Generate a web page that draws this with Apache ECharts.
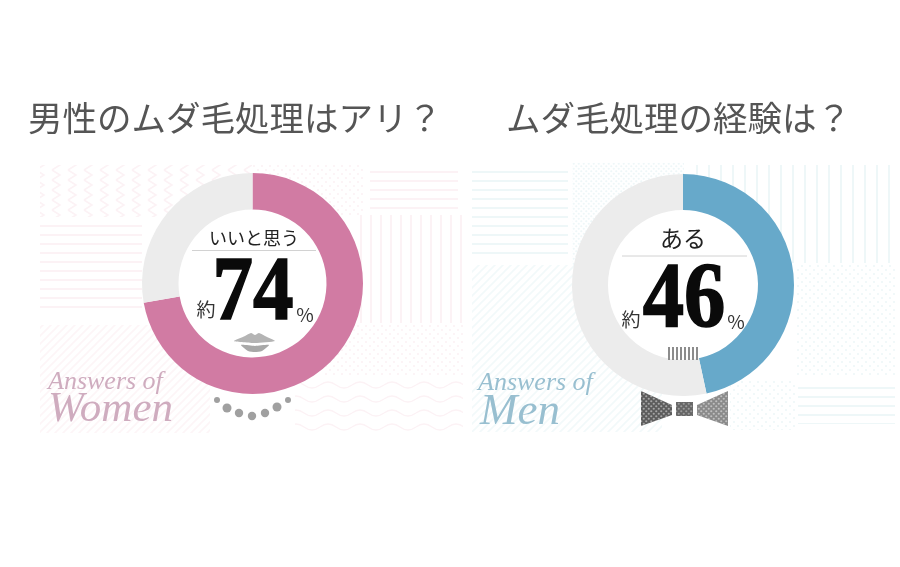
<!DOCTYPE html>
<html><head><meta charset="utf-8">
<style>html,body{margin:0;padding:0;background:#fff}#c{width:900px;height:567px}</style>
<script src="https://cdn.jsdelivr.net/npm/echarts@6/dist/echarts.min.js"></script>
</head><body><div id="c"></div>
<script>
const titles = ['男性のムダ毛処理はアリ？', 'ムダ毛処理の経験は？'];
const answers = ['いいと思う', 'ある'];
const readouts = ['74', '46'];
const womenArc = [72.2, 27.8];
const menArc = [46.6, 53.4];
const ringColors = ['#d17ba3', '#67a9ca'];
const restColor = '#ececec';
const CJK = '"Noto Sans CJK JP","Noto Sans",sans-serif';

function tile(w, h, draw) {
  const c = document.createElement('canvas'); c.width = w; c.height = h;
  draw(c.getContext('2d')); return { image: c, repeat: 'repeat' };
}
function hl(col, g) { return tile(4, g, x => { x.fillStyle = col; x.fillRect(0, 0, 4, 2); }); }
function vl(col, g) { return tile(g, 4, x => { x.fillStyle = col; x.fillRect(0, 0, 2, 4); }); }
function diag(col) { return tile(8, 8, x => { x.strokeStyle = col; x.lineWidth = 1.6;
  x.beginPath(); x.moveTo(-2, 10); x.lineTo(10, -2); x.moveTo(-2, 2); x.lineTo(2, -2); x.moveTo(6, 10); x.lineTo(10, 6); x.stroke(); }); }
function dots(col, g) { return tile(g, g, x => { x.fillStyle = col;
  x.beginPath(); x.arc(g / 4, g / 4, 1.1, 0, 7); x.arc(3 * g / 4, 3 * g / 4, 1.1, 0, 7); x.fill(); }); }
function wave(col) { return tile(32, 14, x => { x.strokeStyle = col; x.lineWidth = 1.4; x.beginPath();
  x.moveTo(0, 7); x.quadraticCurveTo(8, 1, 16, 7); x.quadraticCurveTo(24, 13, 32, 7); x.stroke(); }); }
function zig(col) { return tile(16, 10, x => { x.strokeStyle = col; x.lineWidth = 1.6; x.beginPath();
  x.moveTo(4, 0); x.lineTo(12, 5); x.lineTo(4, 10); x.stroke(); }); }

const P = '#fcf2f5', B = '#eef7f8';
const bg = (x, y, w, h, fill) => ({ type: 'rect', z: 0, silent: true, shape: { x, y, width: w, height: h }, style: { fill } });
const txt = (x, y, text, size, extra) => ({ type: 'text', z: 10, silent: true, x, y, style: Object.assign({
  text, font: `400 ${size}px ${CJK}`, fill: '#222', align: 'center', verticalAlign: 'middle' }, extra || {}) });
const big = (x, y, text, size, sx) => ({ type: 'text', z: 10, silent: true, x, y, scaleX: sx, style: {
  text, font: `700 ${size}px "Liberation Serif",serif`, fill: '#0a0a0a', stroke: '#0a0a0a', lineWidth: 1.6,
  align: 'center', verticalAlign: 'middle' } });
const script = (x, y, text, size, fill) => ({ type: 'text', z: 10, silent: true, x, y, style: {
  text, font: `italic 400 ${size}px "Liberation Serif",serif`, fill, align: 'left', verticalAlign: 'middle' } });
const rule = (x1, x2, y) => ({ type: 'line', z: 10, silent: true, shape: { x1, y1: y, x2, y2: y }, style: { stroke: '#d2d2d2', lineWidth: 1 } });
const disc = (cx, cy, r, fill) => ({ type: 'circle', z: 10, silent: true, shape: { cx, cy, r }, style: { fill } });
const poly = (points, fill, smooth, z) => ({ type: 'polygon', z: z || 10, silent: true, shape: { points, smooth: smooth || 0 }, style: { fill } });

const wingL = [[641, 391], [672, 405], [672, 415], [641, 426]];
const wingR = [[728, 391], [697, 405], [697, 415], [728, 426]];
const knot = [[676, 402], [693, 402], [693, 416], [676, 416]];
const elements = [
  // women panel backdrop
  bg(40, 165, 212, 52, zig(P)), bg(252, 165, 113, 50, dots(P, 8)), bg(370, 170, 88, 40, hl(P, 9)),
  bg(40, 222, 102, 90, hl(P, 9)), bg(357, 215, 106, 108, vl(P, 10)),
  bg(40, 325, 170, 108, diag('#fdf5f7')), bg(323, 325, 140, 50, dots(P, 8)), bg(295, 376, 168, 56, wave(P)),
  // men panel backdrop
  bg(472, 165, 96, 95, hl(B, 9)), bg(572, 163, 112, 102, dots(B, 5)), bg(692, 165, 203, 98, vl(B, 12)),
  bg(472, 265, 190, 167, diag('#f2f9fa')), bg(795, 265, 100, 112, dots(B, 8)), bg(730, 380, 65, 50, dots(B, 8)),
  bg(798, 380, 97, 44, hl(B, 9)),
  // titles
  txt(235, 118, titles[0], 34.5, { fill: '#555' }), txt(678.5, 118, titles[1], 34.5, { fill: '#555' }),
  // women centre
  txt(254, 238, answers[0], 18), rule(192, 316, 250.5), big(253, 296, readouts[0], 90, 0.9),
  txt(206, 310, '約', 19, { fill: '#333' }), txt(305, 315, '%', 19, { fill: '#333' }),
  // lips
  poly([[234, 341], [245, 336], [251, 333], [255, 335], [259, 333], [265, 336], [275, 341], [255, 343]], '#b4b4b4', 0.2),
  poly([[241, 345], [255, 346], [269, 345], [262, 351], [255, 352], [248, 351]], '#a8a8a8', 0.2),
  // necklace
  disc(217, 400, 3, '#a0a0a0'), disc(227, 408, 4.5, '#a0a0a0'), disc(239, 413, 4.2, '#a0a0a0'), disc(252, 416, 4.2, '#a0a0a0'),
  disc(265, 413, 4.2, '#a0a0a0'), disc(277, 407, 4.5, '#a0a0a0'), disc(288, 400, 3, '#a0a0a0'),
  script(48, 382, 'Answers of', 26, '#cfacbf'), script(48, 410, 'Women', 43, '#cfacbf'),
  // men centre
  txt(683, 238, answers[1], 23), rule(622, 747, 256), big(684, 302, readouts[1], 94, 0.88),
  txt(631, 320, '約', 19, { fill: '#333' }), txt(736, 322, '%', 19, { fill: '#333' }),
  // collar stripes
  { type: 'rect', z: 10, silent: true, shape: { x: 667, y: 347, width: 33, height: 13 }, style: { fill: tile(4, 4, x => { x.fillStyle = '#8c8c8c'; x.fillRect(0, 0, 2, 4); }) } },
  // bow tie
  poly(wingL, '#5c5c5c'), poly(wingR, '#8a8a8a'), poly(knot, '#666'),
  poly(wingL, dots('rgba(255,255,255,.45)', 5), 0, 11), poly(wingR, dots('rgba(255,255,255,.45)', 5), 0, 11),
  poly(knot, dots('rgba(255,255,255,.35)', 5), 0, 11),
  script(478, 383, 'Answers of', 26, '#98bfd0'), script(480, 412, 'Men', 45, '#98bfd0')
];

function ring(center, radius, values, color) {
  return { type: 'pie', center, radius, startAngle: 90, clockwise: true, silent: true, z: 5,
    label: { show: false }, labelLine: { show: false }, animation: false,
    data: [{ value: values[0], itemStyle: { color } }, { value: values[1], itemStyle: { color: restColor } }] };
}
// white faces behind the centre text
function face(center, r) {
  return { type: 'pie', center, radius: [0, r], silent: true, z: 4, label: { show: false }, labelLine: { show: false },
    animation: false, data: [{ value: 1, itemStyle: { color: '#fff' } }] };
}
const chart = echarts.init(document.getElementById('c'), null, { renderer: 'canvas' });
chart.setOption({
  backgroundColor: '#fff', animation: false,
  graphic: { elements },
  series: [face([252.5, 283.5], 75), face([683, 285], 76),
    ring([252.5, 283.5], [74, 110.5], womenArc, ringColors[0]), ring([683, 285], [75, 111], menArc, ringColors[1])]
});
</script></body></html>
